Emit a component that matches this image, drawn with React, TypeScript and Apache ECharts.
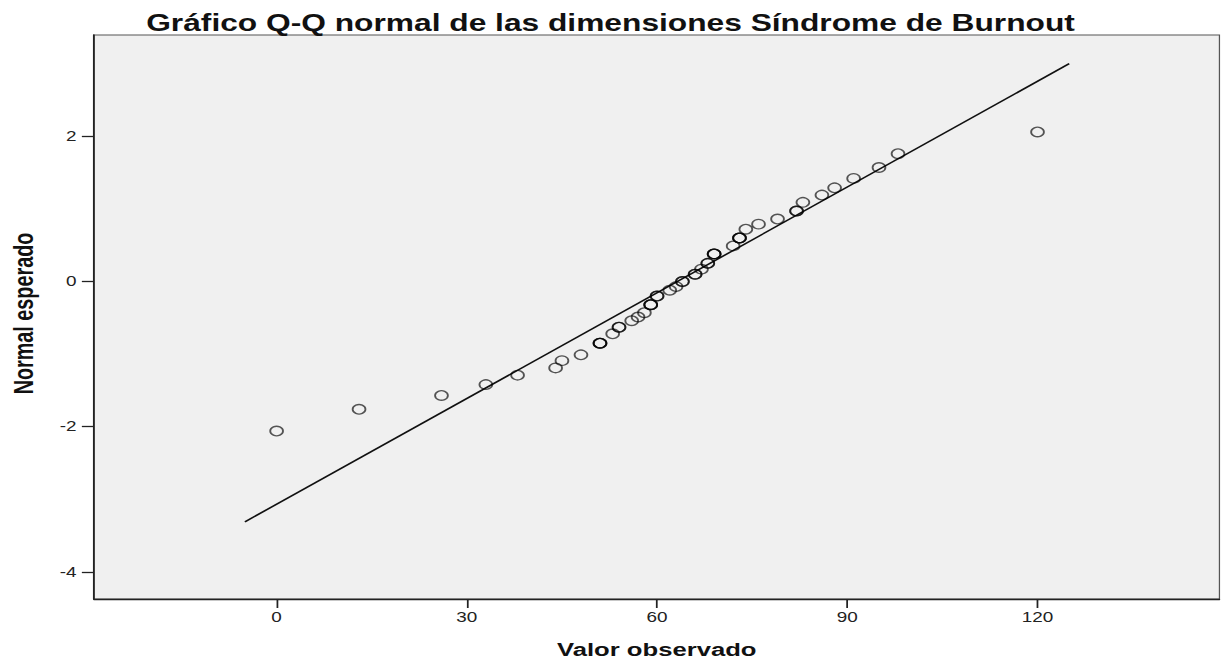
import React, { useEffect, useRef } from "react";
import * as echarts from "echarts";

const observed = [
  0, 13, 26, 33, 38, 44, 45, 48, 51, 51, 51, 53, 54, 54, 56, 57, 58, 59, 59, 59,
  60, 60, 62, 63, 64, 64, 66, 66, 67, 68, 68, 69, 69, 69, 72, 73, 73, 73, 74, 76,
  79, 82, 82, 83, 86, 88, 91, 95, 98, 120,
];
const expected = [
  -2.06, -1.76, -1.57, -1.42, -1.29, -1.19, -1.09, -1.01, -0.85, -0.85, -0.85,
  -0.72, -0.63, -0.63, -0.54, -0.49, -0.43, -0.32, -0.32, -0.32, -0.2, -0.2,
  -0.12, -0.07, 0, 0, 0.1, 0.1, 0.17, 0.25, 0.25, 0.38, 0.38, 0.38, 0.49, 0.6,
  0.6, 0.6, 0.72, 0.79, 0.86, 0.97, 0.97, 1.09, 1.19, 1.29, 1.42, 1.57, 1.76,
  2.06,
];
// Reference line end points
const lineX = [-5, 125];
const lineY = [-3.31, 3.0];
// Tick labels
const xTicks = [0, 30, 60, 90, 120];
const yTicks = [-4, -2, 0, 2];

const titleText = "Gráfico Q-Q normal de las dimensiones Síndrome de Burnout";
const xName = "Valor observado";
const yName = "Normal esperado";

const STRETCH = 1.35;
const PAGE_W = 1221;
const PAGE_H = 664;
const INNER_W = PAGE_W / STRETCH;
const FONT = "'Liberation Sans', Arial, Helvetica, sans-serif";

export default function App() {
  const ref = useRef<HTMLDivElement>(null);

  useEffect(() => {
    if (!ref.current) return;
    const chart = echarts.init(ref.current, undefined, {
      renderer: "svg",
      width: INNER_W,
      height: PAGE_H,
    });
    const axisColor = "#222";
    chart.setOption({
      animation: false,
      backgroundColor: "#ffffff",
      title: {
        text: titleText,
        left: "center",
        top: 11,
        padding: 0,
        textStyle: {
          fontFamily: FONT,
          fontWeight: "bold",
          fontSize: 23.5,
          color: "#111",
        },
      },
      grid: {
        left: 94 / STRETCH,
        right: INNER_W - 1219.5 / STRETCH,
        top: 35,
        bottom: 65,
        show: true,
        backgroundColor: "#f0f0f0",
        borderColor: "#555",
        borderWidth: 1,
        containLabel: false,
        outerBoundsMode: "none",
      },
      xAxis: {
        type: "value",
        min: -28.8,
        max: 148.7,
        name: xName,
        nameLocation: "middle",
        nameGap: 41,
        nameTextStyle: {
          fontFamily: FONT,
          fontWeight: "bold",
          fontSize: 19,
          color: "#111",
        },
        axisLine: {
          show: true,
          onZero: false,
          lineStyle: { color: axisColor, width: 1.3 },
        },
        axisTick: {
          show: true,
          inside: false,
          length: 9,
          customValues: xTicks,
          lineStyle: { color: axisColor, width: 1.3 },
        },
        axisLabel: {
          customValues: xTicks,
          margin: 11,
          fontFamily: FONT,
          fontSize: 14,
          color: "#222",
        },
        splitLine: { show: false },
      },
      yAxis: {
        type: "value",
        min: -4.373,
        max: 3.395,
        name: yName,
        nameLocation: "middle",
        nameGap: 42,
        nameRotate: 90,
        nameTextStyle: {
          fontFamily: FONT,
          fontWeight: "bold",
          fontSize: 19.8,
          color: "#111",
          padding: [0, 0, 0, 7],
        },
        axisLine: {
          show: true,
          onZero: false,
          lineStyle: { color: axisColor, width: 1.3 },
        },
        axisTick: {
          show: true,
          inside: false,
          length: 9,
          customValues: yTicks,
          lineStyle: { color: axisColor, width: 1.3 },
        },
        axisLabel: {
          customValues: yTicks,
          margin: 13,
          fontFamily: FONT,
          fontSize: 14,
          color: "#222",
        },
        splitLine: { show: false },
      },
      series: [
        {
          type: "line",
          data: lineX.map((x, i) => [x, lineY[i]]),
          symbol: "none",
          silent: true,
          lineStyle: { color: "#111", width: 1.5 },
          z: 2,
        },
        {
          type: "scatter",
          data: observed.map((v, i) => [v, expected[i]]),
          symbol: "circle",
          symbolSize: 9.5,
          itemStyle: {
            color: "rgba(0,0,0,0)",
            borderColor: "rgba(0,0,0,0.82)",
            borderWidth: 1.35,
          },
          z: 3,
        },
      ],
    });
    return () => chart.dispose();
  }, []);

  return (
    <div
      ref={ref}
      style={{
        position: "absolute",
        left: 0,
        top: 0,
        width: INNER_W,
        height: PAGE_H,
        transform: `scaleX(${STRETCH})`,
        transformOrigin: "0 0",
        background: "#fff",
      }}
    />
  );
}
